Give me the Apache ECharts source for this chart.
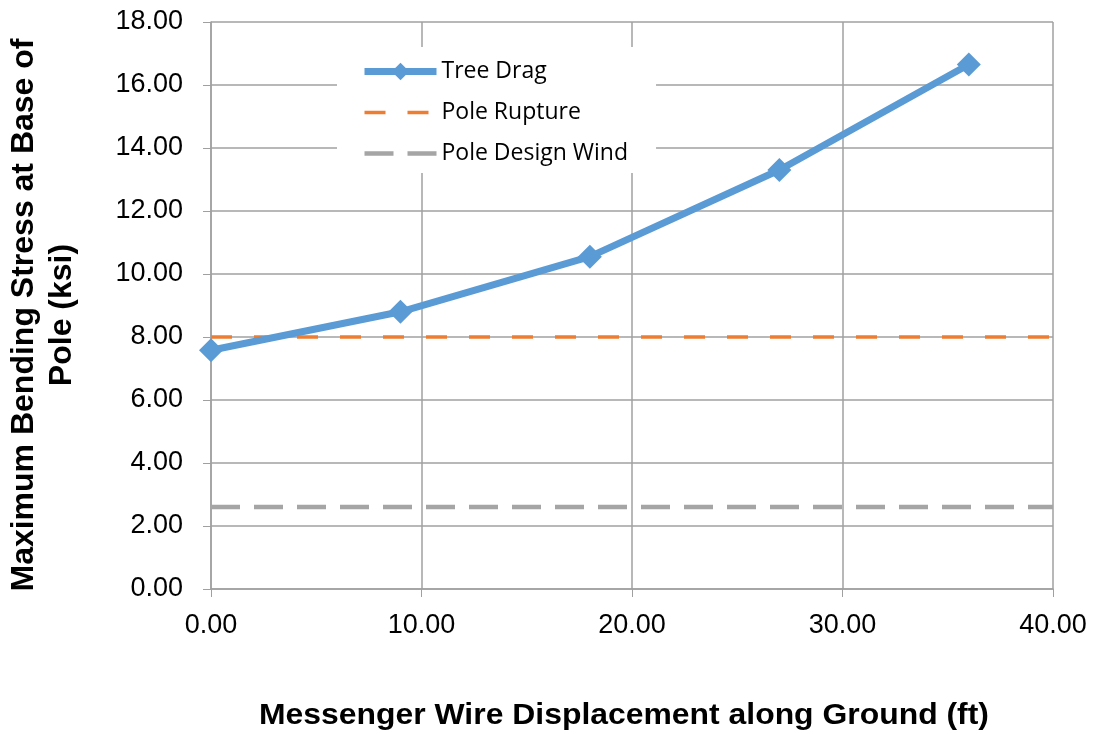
<!DOCTYPE html>
<html><head><meta charset="utf-8">
<script src="https://cdn.jsdelivr.net/npm/echarts@6/dist/echarts.min.js"></script>
<style>html,body{margin:0;padding:0;background:#fff}#c{width:1094px;height:734px}</style>
</head><body><div id="c"></div>
<script>
const displacement = [0, 9, 18, 27, 36];
const treeDrag = [7.58, 8.8, 10.55, 13.3, 16.65];
const ruptureX = [0, 40];
const poleRupture = [8.0, 8.0];
const designX = [0, 40];
const poleDesignWind = [2.6, 2.6];
const seriesNames = ['Tree Drag', 'Pole Rupture', 'Pole Design Wind'];
const xTitle = 'Messenger Wire Displacement along Ground (ft)';
const yTitle = 'Maximum Bending Stress at Base of\nPole (ksi)';

const chart = echarts.init(document.getElementById('c'));
const gridColor = '#a0a0a0';
const axisFont = {fontFamily: 'Liberation Sans, Arial, sans-serif', fontSize: 27, color: '#000'};
chart.setOption({
  animation: false,
  grid: {left: 211, right: 41, top: 22, bottom: 145},
  xAxis: {
    type: 'value', min: 0, max: 40, interval: 10,
    axisLine: {show: true, lineStyle: {color: gridColor, width: 1.5}},
    axisTick: {show: true, length: 8, lineStyle: {color: gridColor}},
    splitLine: {show: true, lineStyle: {color: gridColor, width: 1.5}},
    axisLabel: Object.assign({margin: 23, formatter: v => v.toFixed(2)}, axisFont)
  },
  yAxis: {
    type: 'value', min: 0, max: 18, interval: 2,
    axisLine: {show: true, lineStyle: {color: gridColor, width: 1.5}},
    axisTick: {show: true, length: 8, lineStyle: {color: gridColor}},
    splitLine: {show: true, lineStyle: {color: gridColor, width: 1.5}},
    axisLabel: Object.assign({margin: 28, formatter: v => v.toFixed(2)}, axisFont)
  },
  legend: {
    orient: 'vertical', left: 337, top: 47,
    backgroundColor: '#fff',
    padding: [13, 28, 8, 24],
    itemWidth: 72, itemHeight: 22, itemGap: 18,
    textStyle: {fontFamily: 'Open Sans, sans-serif', fontSize: 23, color: '#000'},
    data: [
      {name: seriesNames[0], lineStyle: {width: 7}},
      {name: seriesNames[1], lineStyle: {width: 3.5}, itemStyle: {opacity: 0}},
      {name: seriesNames[2], lineStyle: {width: 4.5}, itemStyle: {opacity: 0}}
    ]
  },
  graphic: [
    {type: 'text', x: 43, y: 315, rotation: Math.PI / 2,
     style: {text: yTitle, fontFamily: 'Liberation Sans, Arial, sans-serif', fontWeight: 'bold', fontSize: 32,
             fill: '#000', align: 'center', verticalAlign: 'middle', lineHeight: 38}},
    {type: 'text', x: 624, y: 716, scaleX: 1.1,
     style: {text: xTitle, fontFamily: 'Liberation Sans, Arial, sans-serif', fontWeight: 'bold', fontSize: 29,
             fill: '#000', align: 'center', verticalAlign: 'middle'}}
  ],
  series: [
    {name: seriesNames[1], type: 'line', data: ruptureX.map((x, i) => [x, poleRupture[i]]),
     symbol: 'none', z: 3, lineStyle: {color: '#ED7D31', width: 3.5, type: [21, 22]}, itemStyle: {color: '#ED7D31'}},
    {name: seriesNames[2], type: 'line', data: designX.map((x, i) => [x, poleDesignWind[i]]),
     symbol: 'none', z: 3, lineStyle: {color: '#A5A5A5', width: 4.5, type: [29, 14]}, itemStyle: {color: '#A5A5A5'}},
    {name: seriesNames[0], type: 'line', data: displacement.map((x, i) => [x, treeDrag[i]]),
     symbol: 'diamond', symbolSize: 24, z: 4,
     lineStyle: {color: '#5B9BD5', width: 7}, itemStyle: {color: '#5B9BD5'}}
  ]
});
</script></body></html>
